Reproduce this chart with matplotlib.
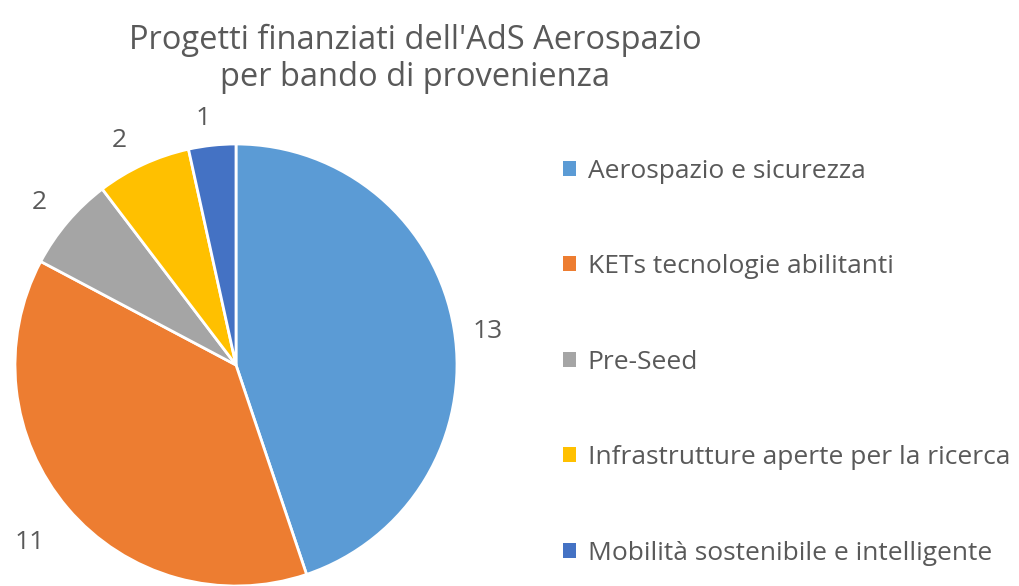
import numpy as np
import matplotlib.pyplot as plt

categories = ["Aerospazio e sicurezza", "KETs tecnologie abilitanti", "Pre-Seed",
              "Infrastrutture aperte per la ricerca", "Mobilità sostenibile e intelligente"]
values = [13, 11, 2, 2, 1]
colors = ["#5B9BD5", "#ED7D31", "#A5A5A5", "#FFC000", "#4472C4"]
title = "Progetti finanziati dell'AdS Aerospazio\nper bando di provenienza"

plt.rcParams['font.family'] = ['Open Sans', 'DejaVu Sans']
text_color = "#595959"
label_dist = [1.152, 1.223, 1.163, 1.157, 1.141]
label_ang_shift = [-1.0, 0.0, 0.4, 2.2, 1.3]

W, H = 1020, 586
fig = plt.figure(figsize=(W / 100, H / 100), dpi=100)
cx, cy, r = 236, 365, 221
ax = fig.add_axes([(cx - r) / W, (H - cy - r) / H, 2 * r / W, 2 * r / H])

wedges, _ = ax.pie(values, colors=colors, startangle=90, counterclock=False,
                   wedgeprops=dict(edgecolor="white", linewidth=2))
for w, v, d, s in zip(wedges, values, label_dist, label_ang_shift):
    ang = np.deg2rad((w.theta1 + w.theta2) / 2 + s)
    ax.text(d * np.cos(ang), d * np.sin(ang), str(v), ha='center', va='center_baseline',
            fontsize=19, color=text_color)
ax.set_aspect('equal')
ax.set_xlim(-1, 1)
ax.set_ylim(-1, 1)

fig.text(415 / W, 1 - 59 / H, title, ha='center', va='center', fontsize=23.5,
         color=text_color, linespacing=1.13)

leg = fig.legend(wedges, categories, loc='upper left', bbox_to_anchor=(539 / W, 1 - 135 / H),
                 frameon=False, fontsize=19, labelcolor=text_color,
                 handlelength=0.5, handleheight=0.5, handletextpad=0.45,
                 labelspacing=2.67)
for h in leg.legend_handles:
    h.set_edgecolor('none')

fig.savefig("out.png", dpi=100)
